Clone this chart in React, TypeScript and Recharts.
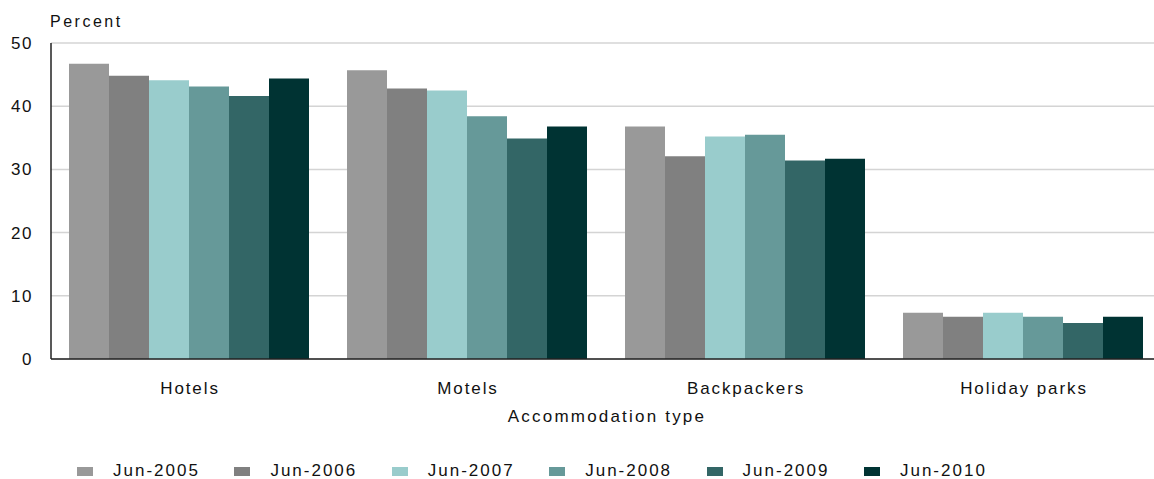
import React from 'react';
import { BarChart, Bar, XAxis, YAxis, CartesianGrid, Legend } from 'recharts';

const categories = ['Hotels', 'Motels', 'Backpackers', 'Holiday parks'];
const seriesNames = ['Jun-2005', 'Jun-2006', 'Jun-2007', 'Jun-2008', 'Jun-2009', 'Jun-2010'];
const seriesColors = ['#999999', '#808080', '#99cccc', '#669999', '#336666', '#003333'];

// percent per category, one array per survey date
const jun2005 = [46.7, 45.7, 36.8, 7.3];
const jun2006 = [44.8, 42.8, 32.1, 6.7];
const jun2007 = [44.1, 42.5, 35.2, 7.3];
const jun2008 = [43.1, 38.4, 35.5, 6.7];
const jun2009 = [41.6, 34.9, 31.4, 5.7];
const jun2010 = [44.4, 36.8, 31.7, 6.7];

const yTicks = [0, 10, 20, 30, 40, 50];

const seriesValues = [jun2005, jun2006, jun2007, jun2008, jun2009, jun2010];

const chartData = categories.map((name, i) => {
  const row: Record<string, string | number> = { name };
  seriesNames.forEach((s, j) => {
    row[s] = seriesValues[j][i];
  });
  return row;
});

const FONT = '"Liberation Sans", Arial, sans-serif';
const TEXT = '#111';

const LegendRow = () => (
  <div
    style={{
      display: 'flex',
      paddingLeft: 77,
      height: 24,
      alignItems: 'center',
      fontFamily: FONT,
      position: 'relative',
      top: 4,
    }}
  >
    {seriesNames.map((s, i) => (
      <div key={s} style={{ width: 157.4, display: 'flex', alignItems: 'center', flexShrink: 0 }}>
        <div style={{ width: 16, height: 9, background: seriesColors[i] }} />
        <span style={{ marginLeft: 20, fontSize: 17, letterSpacing: 2, color: TEXT }}>{s}</span>
      </div>
    ))}
  </div>
);

export default function App() {
  return (
    <div style={{ position: 'absolute', left: 0, top: 0, width: 1154, height: 479, overflow: 'hidden', background: '#fff' }}>
      <BarChart
        width={1200}
        height={479}
        data={chartData}
        margin={{ top: 43, right: 37, left: 0, bottom: 0 }}
        barCategoryGap={18}
        barGap={0}
      >
        <CartesianGrid vertical={false} stroke="#d4d4d4" strokeWidth={1.5} />
        <XAxis
          dataKey="name"
          height={96}
          tickSize={0}
          tickMargin={23}
          axisLine={{ stroke: '#222', strokeWidth: 1.5 }}
          tick={{ fill: TEXT, fontSize: 17, letterSpacing: 1.9, fontFamily: FONT }}
          label={{
            value: 'Accommodation type',
            position: 'insideBottom',
            offset: 33,
            fill: TEXT,
            fontSize: 17,
            letterSpacing: 2.2,
            fontFamily: FONT,
          }}
        />
        <YAxis
          width={51}
          domain={[0, 50]}
          ticks={yTicks}
          tickSize={0}
          tickMargin={18}
          axisLine={{ stroke: '#222', strokeWidth: 1.5 }}
          tick={{ fill: TEXT, fontSize: 17, letterSpacing: 1.5, fontFamily: FONT }}
          label={{
            content: () => (
              <text x={50} y={27} fill={TEXT} fontSize={16} letterSpacing={2.5} fontFamily={FONT}>
                Percent
              </text>
            ),
          }}
        />
        <Legend verticalAlign="bottom" height={24} content={() => <LegendRow />} />
        {seriesNames.map((s, i) => (
          <Bar key={s} dataKey={s} fill={seriesColors[i]} isAnimationActive={false} />
        ))}
      </BarChart>
    </div>
  );
}
